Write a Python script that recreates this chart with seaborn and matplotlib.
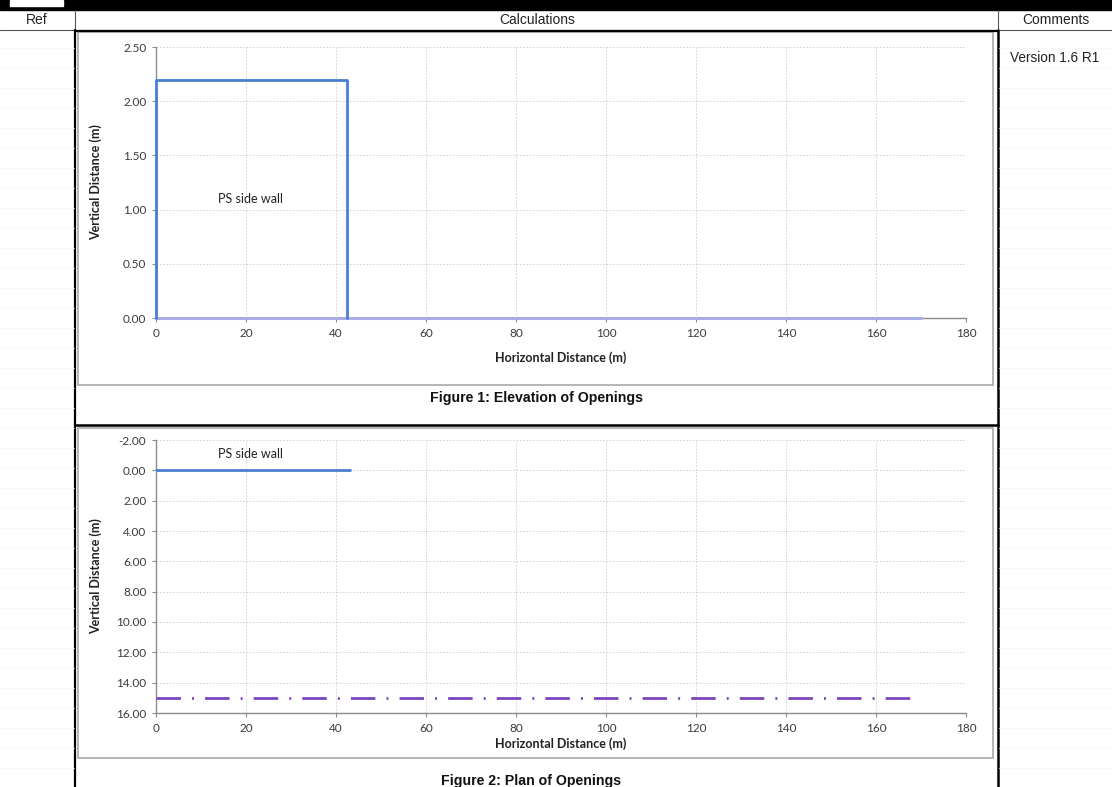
import matplotlib
matplotlib.use("Agg")
import matplotlib.pyplot as plt
import seaborn as sns

# chart data
elev_x = [0, 0, 42.5, 42.5]
elev_y = [0, 2.2, 2.2, 0]
ground_x = [0, 170]
ground_y = [0, 0]
plan_wall_x = [0, 43]
plan_wall_y = [0, 0]
boundary_x = [0, 168]
boundary_y = [15, 15]

x_ticks = [0, 20, 40, 60, 80, 100, 120, 140, 160, 180]
elev_yticks = [0, 0.5, 1.0, 1.5, 2.0, 2.5]
plan_yticks = [-2, 0, 2, 4, 6, 8, 10, 12, 14, 16]

W, H = 1112, 787
BLUE = "#4a7fd0"
PURPLE = "#7b45c0"

sns.set_style("white")
plt.rcParams["font.family"] = ["Lato", "DejaVu Sans"]


def rect(x0, y0, x1, y1):
    return [x0 / W, 1 - y1 / H, (x1 - x0) / W, (y1 - y0) / H]


def style_axes(ax, yticks, ylim):
    ax.set_xlim(0, 180)
    ax.set_ylim(*ylim)
    ax.set_xticks(x_ticks)
    ax.set_yticks(yticks)
    ax.set_yticklabels([f"{v:.2f}" for v in yticks])
    ax.grid(True, linestyle=(0, (2, 2)), color="#cccccc", linewidth=0.6)
    for s in ["top", "right"]:
        ax.spines[s].set_visible(False)
    for s in ["left", "bottom"]:
        ax.spines[s].set_color("#8c8c8c")
        ax.spines[s].set_linewidth(1.0)
    ax.tick_params(axis="both", length=3, width=0.8, color="#8c8c8c",
                   direction="out", labelsize=8.5, labelcolor="#3a3a3a", pad=4)
    ax.tick_params(axis="both", which="both", bottom=True, left=True)
    ax.set_ylabel("Vertical Distance (m)", fontsize=9, fontweight="bold", color="#222222")
    ax.set_xlabel("Horizontal Distance (m)", fontsize=9, fontweight="bold", color="#222222")
    ax.yaxis.set_label_coords(-0.066, 0.5)


fig = plt.figure(figsize=(W / 100, H / 100), dpi=100)

# page background (spreadsheet frame)
bg = fig.add_axes([0, 0, 1, 1])
bg.set_xlim(0, W)
bg.set_ylim(H, 0)
bg.axis("off")
bg.add_patch(plt.Rectangle((0, 0), W, 10, color="black"))
bg.add_patch(plt.Rectangle((10, 0), 53, 6, color="white"))
hf = ["Liberation Sans", "DejaVu Sans"]
bg.text(37, 19.5, "Ref", ha="center", va="center", fontsize=10, family=hf, color="#222222")
bg.text(537, 19.5, "Calculations", ha="center", va="center", fontsize=10, family=hf, color="#222222")
bg.text(1056, 19.5, "Comments", ha="center", va="center", fontsize=10, family=hf, color="#222222")
bg.text(1010, 58, "Version 1.6 R1", ha="left", va="center", fontsize=9.8, family=hf, color="#222222")
bg.plot([0, W], [29.5, 29.5], color="#555555", lw=0.8)
bg.plot([75, 998], [30.5, 30.5], color="black", lw=1.6)
bg.plot([75, 75], [10, 30], color="#555555", lw=0.8)
bg.plot([998, 998], [10, 30], color="#555555", lw=0.8)
bg.plot([75, 75], [30, H], color="black", lw=1.6)
bg.plot([997.5, 997.5], [30, H], color="black", lw=1.8)
bg.plot([75, 998], [425, 425], color="black", lw=1.8)
# chart borders
bg.add_patch(plt.Rectangle((77.5, 31.5), 915, 353, fill=False, ec="#a8a8a8", lw=1.2))
bg.add_patch(plt.Rectangle((77.5, 428), 915, 330, fill=False, ec="#a8a8a8", lw=1.2))
# faint cell grid
for yy in range(48, H, 20):
    bg.plot([0, 74], [yy, yy], color="#f8f8f8", lw=0.6)
    bg.plot([999, W], [yy, yy], color="#f8f8f8", lw=0.6)
bg.text(537, 398, "Figure 1: Elevation of Openings", ha="center", va="center",
        fontsize=10.2, fontweight="bold", family=hf, color="#111111")
bg.text(531, 781, "Figure 2: Plan of Openings", ha="center", va="center",
        fontsize=10.2, fontweight="bold", family=hf, color="#111111")

# Figure 1: elevation
ax1 = fig.add_axes(rect(156, 47, 966, 318))
style_axes(ax1, elev_yticks, (0, 2.5))
sns.lineplot(x=ground_x, y=ground_y, ax=ax1, color="#a9aee6", linewidth=2.2,
             zorder=5, clip_on=False)
sns.lineplot(x=elev_x, y=elev_y, ax=ax1, sort=False, estimator=None,
             color=BLUE, linewidth=2.0, zorder=6, clip_on=False)
ax1.set_xlabel("Horizontal Distance (m)", fontsize=9, fontweight="bold", color="#222222")
ax1.set_ylabel("Vertical Distance (m)", fontsize=9, fontweight="bold", color="#222222")
ax1.set_xlim(0, 180)
ax1.set_ylim(0, 2.5)
ax1.xaxis.set_label_coords(0.5, -0.122)
ax1.text(21, 1.1, "PS side wall", fontsize=9, ha="center", va="center", color="#222222")

# Figure 2: plan
ax2 = fig.add_axes(rect(156, 440, 966, 713))
sns.lineplot(x=plan_wall_x, y=plan_wall_y, ax=ax2, color=BLUE, linewidth=2.0, zorder=4)
sns.lineplot(x=boundary_x, y=boundary_y, ax=ax2, color=PURPLE, linewidth=2.0,
             linestyle=(0, (8.8, 4, 0.7, 4)), zorder=4)
style_axes(ax2, plan_yticks, (16, -2))
ax2.xaxis.set_label_coords(0.5, -0.09)
ax2.text(21, -1.1, "PS side wall", fontsize=9, ha="center", va="center", color="#222222")

fig.savefig("out.png", dpi=100)
